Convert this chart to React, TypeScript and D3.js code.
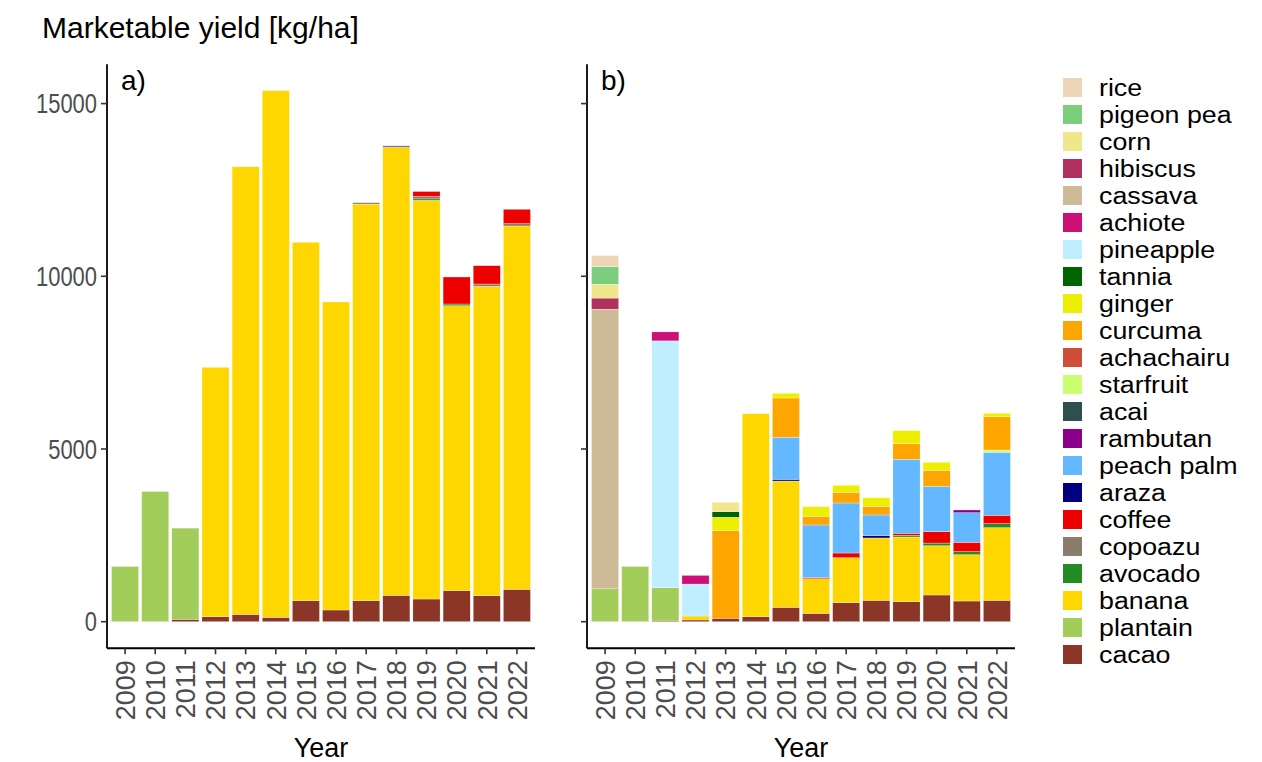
import React, { useEffect, useRef } from 'react';
import * as d3 from 'd3';

// years on the x axis
const years = ['2009', '2010', '2011', '2012', '2013', '2014', '2015', '2016', '2017', '2018', '2019', '2020', '2021', '2022'];

// legend order (top to bottom); bars stack in the reverse order
const crops = ['rice', 'pigeon pea', 'corn', 'hibiscus', 'cassava', 'achiote', 'pineapple', 'tannia', 'ginger', 'curcuma',
  'achachairu', 'starfruit', 'acai', 'rambutan', 'peach palm', 'araza', 'coffee', 'copoazu', 'avocado', 'banana', 'plantain', 'cacao'];
const cropColors = ['#EED5B7', '#7CCD7C', '#F0E68C', '#B03060', '#CDBA96', '#CD1076', '#BFEFFF', '#006400', '#EEEE00', '#FFA500',
  '#CD4F39', '#CAFF70', '#2F4F4F', '#8B008B', '#63B8FF', '#000080', '#EE0000', '#8B7D6B', '#228B22', '#FFD700', '#A2CD5A', '#8B3626'];

// panel a) marketable yield [kg/ha]
const aCacao = [0, 0, 70, 145, 214, 127, 608, 339, 608, 764, 657, 898, 753, 938];
const aPlantain = [1600, 3770, 2640, 0, 0, 0, 0, 0, 0, 0, 0, 0, 0, 0];
const aBanana = [0, 0, 0, 7220, 12956, 15247, 10377, 8917, 11483, 12966, 11543, 8250, 8957, 10518];
const aAvocado = [0, 0, 0, 0, 0, 0, 0, 0, 0, 0, 40, 50, 0, 0];
const aCopoazu = [0, 0, 0, 0, 0, 0, 0, 0, 40, 50, 70, 0, 67, 67];
const aCoffee = [0, 0, 0, 0, 0, 0, 0, 0, 0, 0, 145, 782, 530, 417];

// panel b) marketable yield [kg/ha]
const bCacao = [0, 0, 20, 50, 100, 145, 417, 242, 550, 620, 580, 773, 599, 620];
const bPlantain = [950, 1600, 960, 0, 0, 0, 0, 0, 0, 0, 0, 0, 0, 0];
const bBanana = [0, 0, 0, 115, 0, 5877, 3656, 1003, 1303, 1804, 1872, 1427, 1341, 2102];
const bAvocado = [0, 0, 0, 0, 0, 0, 0, 0, 0, 0, 50, 77, 87, 116];
const bCoffee = [0, 0, 0, 0, 0, 0, 0, 35, 136, 0, 60, 329, 272, 243];
const bAraza = [0, 0, 0, 0, 0, 0, 50, 0, 0, 70, 0, 0, 0, 0];
const bPeachPalm = [0, 0, 0, 0, 0, 0, 1216, 1520, 1448, 596, 2140, 1314, 857, 1824];
const bRambutan = [0, 0, 0, 0, 0, 0, 0, 0, 0, 0, 0, 0, 78, 0];
const bStarfruit = [0, 0, 0, 0, 0, 0, 0, 0, 0, 0, 0, 0, 0, 66];
const bCurcuma = [0, 0, 0, 0, 2535, 0, 1138, 251, 309, 251, 452, 463, 0, 965];
const bGinger = [0, 0, 0, 0, 390, 0, 135, 279, 203, 249, 376, 232, 0, 97];
const bTannia = [0, 0, 0, 0, 160, 0, 0, 0, 0, 0, 0, 0, 0, 0];
const bPineapple = [0, 0, 7150, 925, 0, 0, 0, 0, 0, 0, 0, 0, 0, 0];
const bAchiote = [0, 0, 260, 250, 0, 0, 0, 0, 0, 0, 0, 0, 0, 0];
const bCassava = [8100, 0, 0, 0, 0, 0, 0, 0, 0, 0, 0, 0, 0, 0];
const bHibiscus = [320, 0, 0, 0, 0, 0, 0, 0, 0, 0, 0, 0, 0, 0];
const bCorn = [400, 0, 0, 0, 270, 0, 0, 0, 0, 0, 0, 0, 0, 0];
const bPigeonPea = [510, 0, 0, 0, 0, 0, 0, 0, 0, 0, 0, 0, 0, 0];
const bRice = [320, 0, 0, 0, 0, 0, 0, 0, 0, 0, 0, 0, 0, 0];

const yTicks = [0, 5000, 10000, 15000];

const panelA = { cacao: aCacao, plantain: aPlantain, banana: aBanana, avocado: aAvocado, copoazu: aCopoazu, coffee: aCoffee };
const panelB = {
  cacao: bCacao, plantain: bPlantain, banana: bBanana, avocado: bAvocado, coffee: bCoffee, araza: bAraza,
  'peach palm': bPeachPalm, rambutan: bRambutan, starfruit: bStarfruit, curcuma: bCurcuma, ginger: bGinger,
  tannia: bTannia, pineapple: bPineapple, achiote: bAchiote, cassava: bCassava, hibiscus: bHibiscus,
  corn: bCorn, 'pigeon pea': bPigeonPea, rice: bRice,
};

const App = () => {
  const svgRef = useRef<SVGSVGElement>(null);

  useEffect(() => {
    const width = 1262;
    const height = 762;
    const svg = d3.select(svgRef.current).attr('width', width).attr('height', height);
    svg.selectAll('*').remove();

    const color = d3.scaleOrdinal<string, string>().domain(crops).range(cropColors);
    const stackKeys = crops.slice().reverse();

    const toRows = (panel: Record<string, number[]>) =>
      years.map((yr, i) => {
        const row: Record<string, any> = { year: yr };
        stackKeys.forEach((k) => (row[k] = panel[k] ? panel[k][i] : 0));
        return row;
      });

    const stack = d3.stack<any>().keys(stackKeys);
    const seriesA = stack(toRows(panelA));
    const seriesB = stack(toRows(panelB));

    // shared y scale, axis lines span the data range plus 5% like ggplot
    const maxTotal = d3.max([...seriesA, ...seriesB].flatMap((s) => s.map((d) => d[1]))) as number;
    const y = d3.scaleLinear().domain([0, 15000]).range([621.7, 103.6]);
    const yLo = -maxTotal * 0.05;
    const yHi = maxTotal * 1.05;

    const panels = [
      { series: seriesA, x0: 107, x1: 535, label: 'a)', showY: true },
      { series: seriesB, x0: 587, x1: 1015, label: 'b)', showY: false },
    ];

    panels.forEach((p) => {
      const x = d3.scaleBand().domain(years).range([p.x0, p.x1]).paddingInner(0.1).paddingOuter(0.15);
      const g = svg.append('g');

      // stacked bars
      g.selectAll('g.layer')
        .data(p.series)
        .join('g')
        .attr('class', 'layer')
        .attr('fill', (s) => color(s.key))
        .selectAll('rect')
        .data((s) => s.filter((d) => d[1] - d[0] > 0))
        .join('rect')
        .attr('x', (d) => x(d.data.year) as number)
        .attr('width', x.bandwidth())
        .attr('y', (d) => y(d[1]))
        .attr('height', (d) => y(d[0]) - y(d[1]))
        .attr('stroke', '#fff')
        .attr('stroke-width', 0.3);

      // axis lines
      g.append('line')
        .attr('x1', p.x0).attr('x2', p.x0)
        .attr('y1', y(yHi)).attr('y2', y(yLo))
        .attr('stroke', '#000').attr('stroke-width', 1.8);
      g.append('line')
        .attr('x1', p.x0).attr('x2', p.x1)
        .attr('y1', y(yLo)).attr('y2', y(yLo))
        .attr('stroke', '#000').attr('stroke-width', 1.8);

      // y ticks
      yTicks.forEach((t) => {
        g.append('line')
          .attr('x1', p.x0 - 6).attr('x2', p.x0)
          .attr('y1', y(t)).attr('y2', y(t))
          .attr('stroke', '#333').attr('stroke-width', 1.6);
        if (p.showY) {
          const s = String(t);
          g.append('text')
            .attr('x', p.x0 - 10)
            .attr('y', y(t))
            .attr('dy', '0.36em')
            .attr('text-anchor', 'end')
            .attr('font-size', 27)
            .attr('textLength', s.length * 12.2)
            .attr('lengthAdjust', 'spacingAndGlyphs')
            .attr('fill', '#4D4D4D')
            .text(s);
        }
      });

      // x ticks and rotated labels
      years.forEach((yr) => {
        const cx = (x(yr) as number) + x.bandwidth() / 2;
        g.append('line')
          .attr('x1', cx).attr('x2', cx)
          .attr('y1', y(yLo)).attr('y2', y(yLo) + 6)
          .attr('stroke', '#333').attr('stroke-width', 1.6);
        g.append('text')
          .attr('transform', `translate(${cx},${y(yLo) + 12}) rotate(-90)`)
          .attr('text-anchor', 'end')
          .attr('dy', '0.36em')
          .attr('font-size', 27)
          .attr('fill', '#4D4D4D')
          .text(yr);
      });

      // panel tag
      g.append('text')
        .attr('x', p.x0 + 14)
        .attr('y', 90)
        .attr('font-size', 28)
        .text(p.label);

      // x axis title
      g.append('text')
        .attr('x', (p.x0 + p.x1) / 2)
        .attr('y', 757)
        .attr('text-anchor', 'middle')
        .attr('font-size', 27)
        .text('Year');
    });

    // y axis title
    svg.append('text')
      .attr('x', 42)
      .attr('y', 38)
      .attr('font-size', 30)
      .text('Marketable yield [kg/ha]');

    // legend
    const legend = svg.append('g').attr('transform', 'translate(1063,78)');
    crops.forEach((c, i) => {
      legend.append('rect')
        .attr('x', 0).attr('y', i * 27)
        .attr('width', 19).attr('height', 19)
        .attr('fill', color(c));
      const t = legend.append('text')
        .attr('x', 36).attr('y', i * 27 + 9.5)
        .attr('dy', '0.36em')
        .attr('font-size', 23.5)
        .text(c);
      // the reference glyphs are wider than Liberation Sans at this height
      const node = t.node() as SVGTextElement;
      const w = node.getComputedTextLength();
      t.attr('textLength', w * 1.14).attr('lengthAdjust', 'spacingAndGlyphs');
    });
  }, []);

  return (
    <svg
      ref={svgRef}
      style={{ position: 'absolute', left: 0, top: 0, fontFamily: 'Liberation Sans, Arial, sans-serif', background: '#fff' }}
    ></svg>
  );
};

export default App;
